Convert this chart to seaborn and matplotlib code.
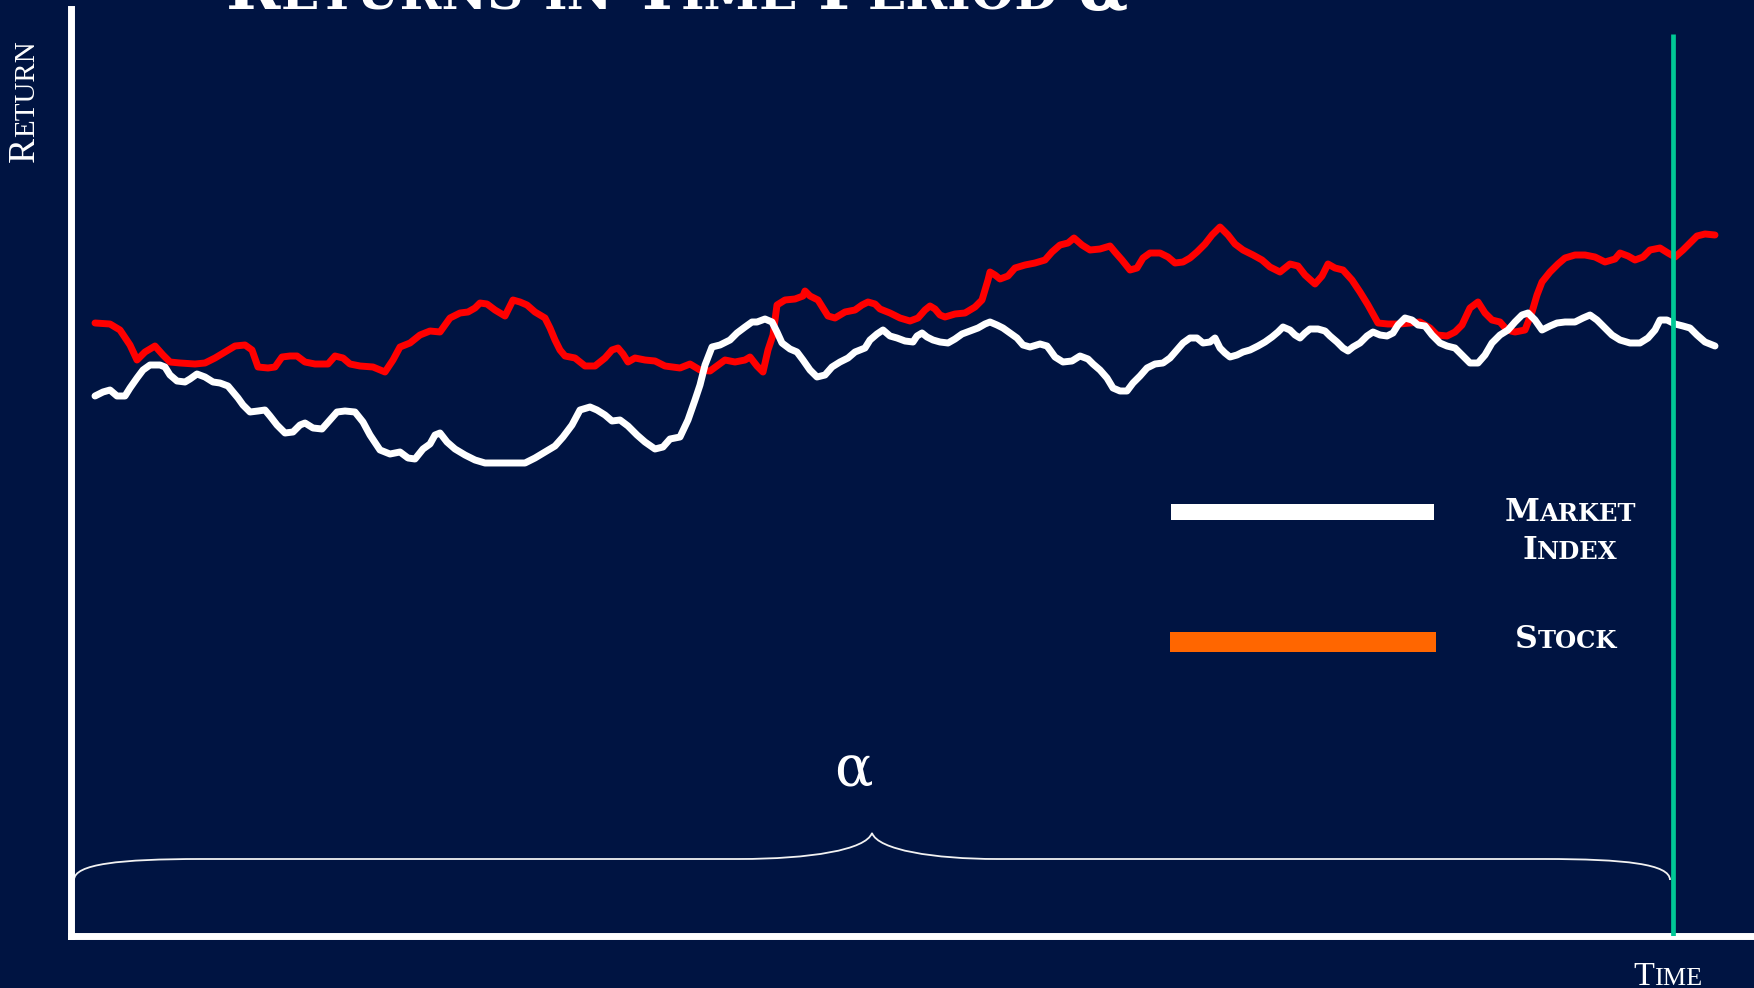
import matplotlib
matplotlib.use("Agg")
import matplotlib.pyplot as plt
import seaborn as sns
from matplotlib.path import Path
from matplotlib.patches import PathPatch, Rectangle

# ---------------- data (time in days, return in %) ----------------
time_stock = [2.5, 4.0, 5.0, 6.0, 6.7, 7.5, 8.5, 9.3, 10.0, 11.0,
              12.5, 13.5, 14.5, 15.5, 16.5, 17.5, 18.2, 18.8, 19.8, 20.5,
              21.2, 22.0, 22.7, 23.5, 24.5, 25.8, 26.5, 27.3, 28.0, 29.0,
              30.3, 31.5, 32.3, 33.0, 34.0, 35.0, 36.0, 37.0, 37.5, 38.0,
              39.0, 39.8, 40.5, 41.0, 41.7, 42.5, 43.0, 43.5, 44.0, 44.3,
              45.0, 45.7, 46.5, 47.5, 48.0, 48.5, 49.0, 49.5, 50.5, 51.5,
              52.5, 53.5, 54.2, 54.8, 55.3, 55.8, 56.5, 57.5, 58.5, 59.5,
              61.0, 62.0, 63.0, 64.0, 65.5, 66.5, 67.5, 68.0, 68.7, 69.3,
              69.8, 70.3, 70.7, 71.5, 72.5, 73.3, 73.5, 74.0, 74.8, 75.3,
              75.8, 76.5, 77.5, 78.5, 79.2, 79.8, 80.5, 81.0, 82.0, 83.0,
              84.0, 84.8, 85.5, 86.0, 86.5, 87.0, 87.5, 88.5, 89.5, 90.5,
              91.2, 91.5, 91.8, 92.0, 92.5, 93.0, 93.8, 94.5, 95.5, 96.5,
              97.5, 98.2, 99.0, 99.8, 100.4, 101.2, 102.0, 103.0, 104.0, 104.5,
              105.2, 106.0, 106.7, 107.3, 108.0, 109.0, 109.8, 110.5, 111.3, 112.0,
              112.7, 113.5, 114.2, 115.0, 115.8, 116.5, 117.3, 118.3, 119.2, 120.0,
              121.0, 122.0, 122.8, 123.5, 124.5, 125.2, 125.8, 126.5, 127.3, 128.2,
              129.0, 129.8, 130.8, 131.8, 133.0, 135.0, 136.0, 136.7, 137.7, 138.5,
              139.2, 140.0, 140.8, 141.5, 142.2, 143.0, 143.7, 144.5, 145.5, 146.2,
              146.7, 147.2, 148.0, 148.8, 149.5, 150.5, 151.5, 152.5, 153.5, 154.5,
              155.0, 155.8, 156.5, 157.3, 158.0, 159.0, 159.8, 160.5, 161.3, 162.0,
              162.7, 163.5, 164.5]
stock_return = [67.7, 67.6, 67.0, 65.5, 64.0, 64.8, 65.4, 64.5, 63.8, 63.7,
                63.6, 63.7, 64.2, 64.8, 65.4, 65.5, 65.0, 63.3, 63.2, 63.3,
                64.3, 64.4, 64.4, 63.8, 63.6, 63.6, 64.4, 64.2, 63.6, 63.4,
                63.3, 62.8, 64.0, 65.3, 65.7, 66.5, 66.9, 66.8, 67.5, 68.2,
                68.7, 68.8, 69.2, 69.7, 69.6, 69.0, 68.7, 68.4, 69.4, 70.0,
                69.8, 69.5, 68.8, 68.2, 67.2, 66.0, 65.0, 64.4, 64.2, 63.4,
                63.4, 64.2, 65.0, 65.2, 64.6, 63.8, 64.2, 64.0, 63.9, 63.4,
                63.2, 63.6, 63.0, 62.9, 64.0, 63.8, 64.0, 64.3, 63.4, 62.8,
                65.0, 66.5, 69.5, 70.0, 70.1, 70.4, 70.9, 70.4, 70.0, 69.2,
                68.4, 68.2, 68.8, 69.0, 69.5, 69.8, 69.6, 69.1, 68.7, 68.2,
                67.9, 68.2, 69.0, 69.4, 69.1, 68.5, 68.3, 68.6, 68.7, 69.3,
                70.0, 71.0, 72.0, 72.8, 72.5, 72.1, 72.4, 73.2, 73.5, 73.7,
                74.0, 74.8, 75.5, 75.7, 76.2, 75.5, 75.0, 75.1, 75.4, 74.8,
                74.0, 73.0, 73.2, 74.2, 74.7, 74.7, 74.3, 73.7, 73.8, 74.2,
                74.8, 75.6, 76.5, 77.3, 76.5, 75.6, 75.0, 74.5, 74.0, 73.3,
                72.8, 73.6, 73.4, 72.5, 71.6, 72.4, 73.6, 73.2, 73.0, 72.0,
                70.8, 69.5, 67.7, 67.6, 67.6, 67.8, 67.2, 66.5, 66.4, 66.8,
                67.5, 69.2, 69.8, 68.7, 68.0, 67.8, 67.0, 66.8, 67.0, 68.8,
                70.5, 71.8, 72.8, 73.6, 74.2, 74.5, 74.5, 74.3, 73.8, 74.1,
                74.7, 74.4, 74.0, 74.3, 75.0, 75.2, 74.7, 74.3, 75.0, 75.7,
                76.4, 76.6, 76.5]

time_market = [2.5, 3.3, 4.0, 4.7, 5.5, 6.0, 6.7, 7.3, 8.0, 9.0,
               9.5, 10.0, 10.7, 11.5, 12.0, 12.7, 13.5, 14.3, 15.0, 15.8,
               16.3, 16.8, 17.3, 18.0, 18.8, 19.5, 20.0, 20.7, 21.5, 22.3,
               23.0, 23.5, 24.3, 25.2, 26.0, 26.7, 27.5, 28.5, 29.3, 30.0,
               31.0, 32.0, 33.0, 33.8, 34.5, 35.3, 36.0, 36.5, 37.0, 37.7,
               38.5, 39.5, 40.5, 41.5, 43.0, 44.5, 45.5, 46.5, 47.5, 48.5,
               49.3, 50.2, 51.0, 52.0, 52.7, 53.5, 54.2, 55.0, 55.8, 56.7,
               57.5, 58.5, 59.3, 60.0, 61.0, 61.8, 62.5, 63.0, 63.5, 64.2,
               65.0, 66.0, 66.7, 67.5, 68.2, 68.7, 69.5, 70.2, 70.7, 71.2,
               72.0, 72.7, 73.3, 74.0, 74.7, 75.5, 76.2, 77.0, 77.8, 78.5,
               79.5, 80.0, 80.7, 81.3, 82.0, 82.7, 83.5, 84.3, 84.7, 85.2,
               85.7, 86.3, 87.0, 87.8, 88.5, 89.2, 90.0, 90.8, 91.5, 92.0,
               92.7, 93.3, 94.0, 94.7, 95.3, 96.0, 97.0, 97.7, 98.0, 98.5,
               99.3, 100.2, 101.0, 101.8, 102.3, 103.0, 103.7, 104.3, 105.0, 105.7,
               106.3, 107.0, 107.7, 108.5, 109.3, 110.0, 110.7, 111.3, 112.0, 112.7,
               113.3, 114.0, 114.5, 115.0, 115.5, 116.0, 116.7, 117.3, 118.0, 118.8,
               119.5, 120.2, 120.8, 121.3, 122.0, 122.5, 123.0, 123.5, 124.0, 124.8,
               125.5, 126.0, 126.7, 127.3, 127.8, 128.3, 129.0, 129.7, 130.3, 131.0,
               131.7, 132.3, 132.8, 133.5, 134.2, 134.8, 135.5, 136.2, 137.0, 137.7,
               138.5, 139.2, 140.0, 140.8, 141.5, 142.2, 143.0, 143.8, 144.5, 145.2,
               145.8, 146.5, 147.2, 148.0, 148.7, 149.5, 150.5, 151.3, 152.0, 152.7,
               153.5, 154.2, 155.0, 156.0, 157.0, 157.8, 158.5, 159.0, 159.7, 160.5,
               161.3, 162.0, 162.7, 163.5, 164.5]
market_return = [60.4, 60.8, 61.0, 60.4, 60.4, 61.2, 62.2, 63.0, 63.5, 63.5,
                 63.3, 62.5, 61.9, 61.8, 62.1, 62.6, 62.3, 61.8, 61.7, 61.4,
                 60.8, 60.2, 59.5, 58.8, 58.9, 59.0, 58.4, 57.5, 56.7, 56.8,
                 57.5, 57.7, 57.2, 57.1, 58.0, 58.8, 58.9, 58.8, 57.8, 56.5,
                 55.0, 54.6, 54.8, 54.2, 54.1, 55.1, 55.6, 56.5, 56.7, 55.8,
                 55.1, 54.5, 54.0, 53.7, 53.7, 53.7, 53.7, 54.2, 54.8, 55.4,
                 56.3, 57.5, 59.0, 59.3, 59.0, 58.5, 57.9, 58.0, 57.4, 56.5,
                 55.8, 55.1, 55.3, 56.1, 56.3, 58.0, 60.0, 61.5, 63.5, 65.3,
                 65.5, 66.0, 66.7, 67.3, 67.8, 67.8, 68.1, 67.8, 66.8, 65.7,
                 65.1, 64.8, 64.0, 63.0, 62.3, 62.5, 63.3, 63.8, 64.2, 64.8,
                 65.2, 66.0, 66.6, 67.0, 66.4, 66.2, 65.9, 65.8, 66.4, 66.7,
                 66.3, 66.0, 65.8, 65.7, 66.1, 66.6, 66.9, 67.2, 67.6, 67.8,
                 67.5, 67.2, 66.7, 66.2, 65.5, 65.3, 65.6, 65.4, 65.0, 64.3,
                 63.8, 63.9, 64.4, 64.1, 63.6, 63.0, 62.2, 61.2, 60.9, 60.9,
                 61.7, 62.4, 63.2, 63.6, 63.7, 64.2, 65.0, 65.7, 66.2, 66.2,
                 65.7, 65.8, 66.2, 65.2, 64.7, 64.3, 64.5, 64.8, 65.0, 65.4,
                 65.8, 66.3, 66.8, 67.3, 67.0, 66.5, 66.2, 66.7, 67.1, 67.1,
                 66.9, 66.4, 65.8, 65.2, 64.9, 65.3, 65.7, 66.4, 66.8, 66.5,
                 66.4, 66.7, 67.5, 68.2, 68.0, 67.5, 67.4, 66.5, 65.7, 65.4,
                 65.2, 64.5, 63.7, 63.7, 64.5, 65.7, 66.5, 67.0, 67.8, 68.5,
                 68.7, 68.0, 67.0, 67.4, 67.7, 67.8, 67.8, 68.2, 68.5, 68.0,
                 67.2, 66.5, 66.0, 65.7, 65.7, 66.2, 67.0, 68.0, 68.0, 67.6,
                 67.4, 67.2, 66.5, 65.8, 65.4]

period_start = 0.4      # start of time period alpha
period_end = 160.0      # end of time period alpha (brace end)
period_marker = 160.3   # vertical line marking end of period
title_text = "Returns in Time Period α"
ylabel_text = "Return"
xlabel_text = "Time"
legend_labels = ["Market", "Index", "Stock"]
period_label = "α"

# ---------------- styling ----------------
NAVY = "#001442"
RED = "#FF0000"
ORANGE = "#FF6600"
GREEN = "#00C896"

sns.set_theme(style="white")
plt.rcParams["font.family"] = ["DejaVu Serif", "DejaVu Sans"]

W, H = 1754, 988
fig = plt.figure(figsize=(W / 100, H / 100), dpi=100, facecolor=NAVY)
ax = fig.add_axes([71 / W, 52 / H, (W - 71) / W, (979 - 52) / H])
ax.set_facecolor(NAVY)
ax.set_xlim(0.1, 168.4)
ax.set_ylim(6.4, 99.1)

sns.lineplot(x=time_stock, y=stock_return, ax=ax, color=RED, linewidth=5.0,
             estimator=None, sort=False, zorder=3)
sns.lineplot(x=time_market, y=market_return, ax=ax, color="white", linewidth=5.0,
             estimator=None, sort=False, zorder=4)

ax.vlines(period_marker, 6.4, 96.6, color=GREEN, linewidth=3.4, zorder=5)

sns.despine(ax=ax)
for side in ("left", "bottom"):
    ax.spines[side].set_color("white")
    ax.spines[side].set_linewidth(5)
ax.set_xticks([])
ax.set_yticks([])
ax.set_xlabel("")
ax.set_ylabel("")

# brace below the lines spanning the period
s, e = period_start, period_end
m = (s + e) / 2
flat, tip, end_y = 14.1, 16.7, 12.0
verts = [(s, end_y),
         (s, 13.6), (s + 4.6, flat), (s + 12.7, flat),
         (m - 13.3, flat),
         (m - 6.2, flat), (m - 0.6, 15.0), (m, tip),
         (m + 0.6, 15.0), (m + 6.2, flat), (m + 12.5, flat),
         (e - 12.6, flat),
         (e - 4.5, flat), (e, 13.6), (e, end_y)]
codes = [Path.MOVETO,
         Path.CURVE4, Path.CURVE4, Path.CURVE4,
         Path.LINETO,
         Path.CURVE4, Path.CURVE4, Path.CURVE4,
         Path.CURVE4, Path.CURVE4, Path.CURVE4,
         Path.LINETO,
         Path.CURVE4, Path.CURVE4, Path.CURVE4]
ax.add_patch(PathPatch(Path(verts, codes), facecolor="none", edgecolor="#F2F2F2",
                       linewidth=1.3, zorder=2))
ax.text(m - 1.9, 23.0, period_label, color="white", fontsize=41,
        family="DejaVu Serif", ha="center", va="center")

# ---------------- small caps text helper ----------------
renderer = fig.canvas.get_renderer()


def smallcaps(x, y, s, size, ratio=0.77, rotation=0, ha="left", fit=None,
              family="DejaVu Serif", weight="normal"):
    runs = []
    for ch in s:
        if ch == " ":
            kind = "space"
        elif "a" <= ch <= "z":
            kind = "small"
        else:
            kind = "big"
        if runs and runs[-1][0] == kind:
            runs[-1][1] += ch
        else:
            runs.append([kind, ch])

    def build(sz):
        items = []
        for kind, txt in runs:
            if kind == "space":
                items.append((None, 0.30 * sz * 100 / 72 * len(txt)))
                continue
            fs = sz if kind == "big" else sz * ratio
            disp = txt.upper() if kind == "small" else txt
            t = fig.text(0, 0, disp, fontsize=fs, color="white", ha="left",
                         va="baseline", rotation_mode="anchor",
                         family=[family, "DejaVu Sans"], weight=weight)
            items.append((t, t.get_window_extent(renderer).width))
        return items

    items = build(size)
    total = sum(w for _, w in items)
    if fit:
        for t, _ in items:
            if t is not None:
                t.remove()
        size = size * fit / total
        items = build(size)
        total = sum(w for _, w in items)
    along = y if rotation else x
    pos = along - total / 2 if ha == "center" else along
    for t, w in items:
        if t is not None:
            if rotation:
                t.set_rotation(rotation)
                t.set_position((x / W, pos / H))
            else:
                t.set_position((pos / W, y / H))
        pos += w


# title (cut off at top edge, as in the slide)
smallcaps(226, 988 - 9, title_text, 40, fit=903, weight="bold")
# axis labels
smallcaps(34, 988 - 162, ylabel_text, 25, rotation=90, fit=122,
          family="Liberation Serif")
smallcaps(1633, 988 - 985, xlabel_text, 23.8, fit=69, family="Liberation Serif")

# legend keys
fig.add_artist(Rectangle((1171 / W, 468 / H), 263 / W, 16 / H,
                         transform=fig.transFigure, facecolor="white", edgecolor="none"))
fig.add_artist(Rectangle((1170 / W, 336 / H), 266 / W, 20 / H,
                         transform=fig.transFigure, facecolor=ORANGE, edgecolor="none"))
smallcaps(1570, 988 - 521, legend_labels[0], 22.7, ha="center", weight="bold")
smallcaps(1570, 988 - 559, legend_labels[1], 22.7, ha="center", weight="bold")
smallcaps(1566, 988 - 648, legend_labels[2], 22.7, ha="center", weight="bold")

fig.savefig("out.png", dpi=100, facecolor=NAVY)
